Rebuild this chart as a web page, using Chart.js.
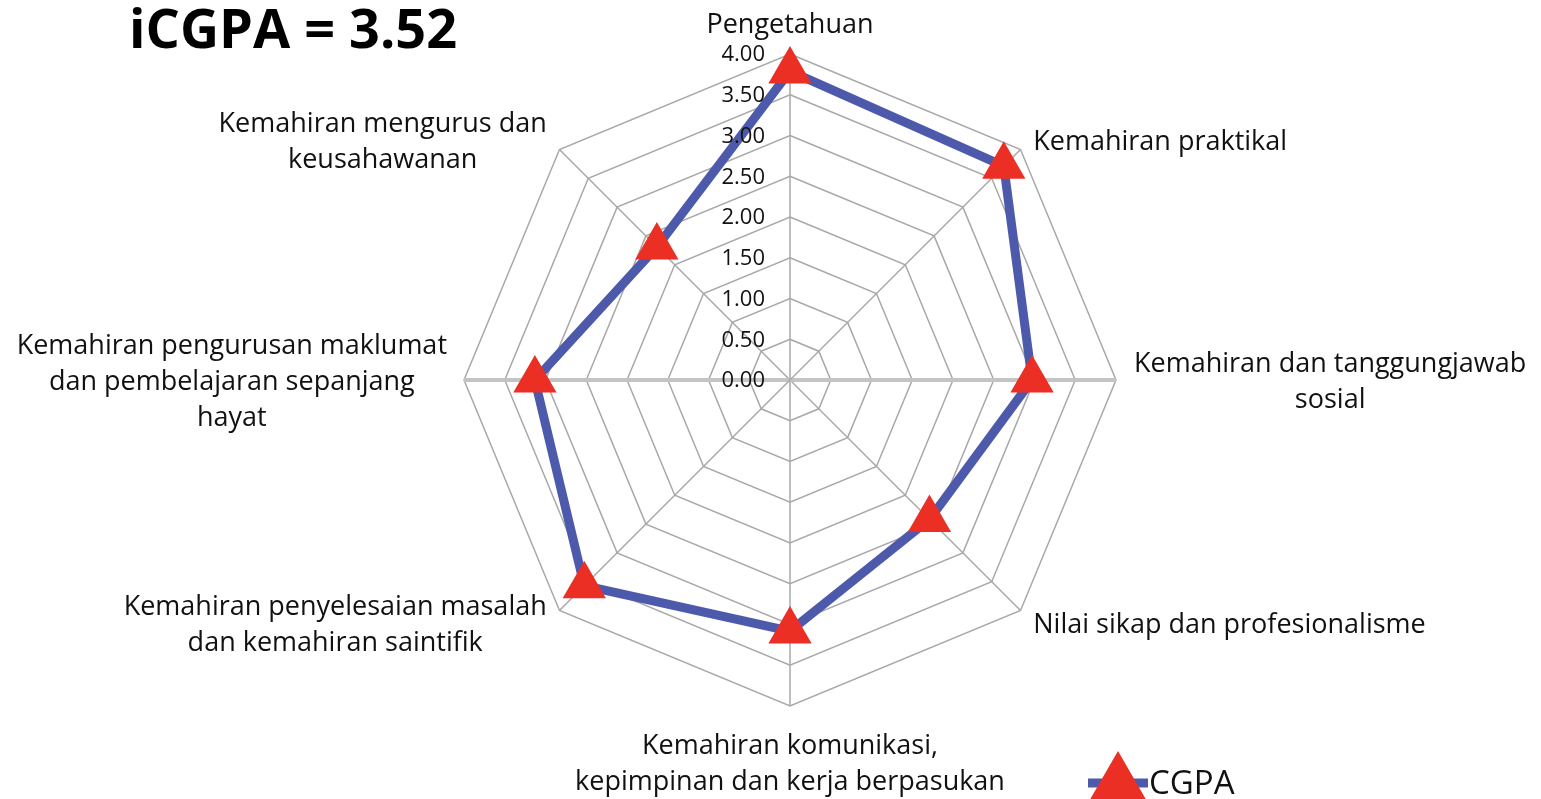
<!DOCTYPE html>
<html>
<head>
<meta charset="utf-8">
<script src="https://cdn.jsdelivr.net/npm/chart.js@4.4.0/dist/chart.umd.min.js"></script>
<style>
  body { margin: 0; background: #fff; }
  #wrap { position: relative; width: 1541px; height: 799px; }
</style>
</head>
<body>
<div id="wrap"><canvas id="radarCgpa"></canvas></div>
<script>
// chart data
var skillLabels = [
  "Pengetahuan",
  "Kemahiran praktikal",
  ["Kemahiran dan tanggungjawab", "sosial"],
  "Nilai sikap dan profesionalisme",
  ["Kemahiran komunikasi,", "kepimpinan dan kerja berpasukan"],
  ["Kemahiran penyelesaian masalah", "dan kemahiran saintifik"],
  ["Kemahiran pengurusan maklumat", "dan pembelajaran sepanjang", "hayat"],
  ["Kemahiran mengurus dan", "keusahawanan"]
];
var cgpaValues = [3.79, 3.71, 2.97, 2.42, 3.08, 3.57, 3.13, 2.31];
var tickLabels = ["0.00", "0.50", "1.00", "1.50", "2.00", "2.50", "3.00", "3.50", "4.00"];
var headline = "iCGPA = 3.52";
var seriesName = "CGPA";

var lineBlue = '#4d5aac';
var markerRed = '#ec2f24';
var labelSize = 27;
var labelLine = 36;
var labelPad = [13, 18, 18, 18, 22, 18, 17, 18];

// draws tick numbers left of the axis, the category labels, title and legend
var decorPlugin = {
  id: 'decor',
  afterDraw: function (chart) {
    var ctx = chart.ctx;
    var scale = chart.scales.r;
    ctx.save();

    // tick labels
    ctx.font = '22px "Open Sans"';
    ctx.fillStyle = '#111';
    ctx.textAlign = 'right';
    ctx.textBaseline = 'middle';
    tickLabels.forEach(function (t) {
      var d = scale.getDistanceFromCenterForValue(parseFloat(t));
      ctx.fillText(t, scale.xCenter - 25, scale.yCenter - d + 1);
    });

    // category labels, placed from the scale's own point positions
    ctx.font = labelSize + 'px "Open Sans"';
    ctx.textAlign = 'center';
    skillLabels.forEach(function (lbl, i) {
      var lines = [].concat(lbl);
      var p = scale.getPointPosition(i, scale.drawingArea + labelPad[i]);
      var w = Math.max.apply(null, lines.map(function (l) { return ctx.measureText(l).width; }));
      var h = lines.length * labelLine;
      var cx = p.x, top = p.y - h / 2 + 2;
      if (i === 0) top = p.y - h + 2;
      if (i === 4) top = p.y;
      if (i === 1 || i === 7) top += 4;
      if (i >= 1 && i <= 3) cx = p.x + w / 2;
      if (i >= 5) cx = p.x - w / 2;
      lines.forEach(function (line, j) {
        ctx.fillText(line, cx, top + labelLine / 2 + j * labelLine);
      });
    });

    // title
    ctx.font = 'bold 54px "Open Sans"';
    ctx.fillStyle = '#000';
    ctx.textAlign = 'left';
    ctx.textBaseline = 'alphabetic';
    ctx.fillText(headline, 129, 48);

    // legend
    var ds = chart.data.datasets[0];
    var lx = 1088, ly = 783;
    ctx.strokeStyle = ds.borderColor;
    ctx.lineWidth = ds.borderWidth;
    ctx.beginPath();
    ctx.moveTo(lx, ly);
    ctx.lineTo(lx + 60, ly);
    ctx.stroke();
    ctx.fillStyle = ds.pointBackgroundColor;
    ctx.strokeStyle = ds.pointBorderColor;
    Chart.helpers.drawPoint(ctx, { pointStyle: 'triangle', radius: ds.pointRadius, borderWidth: ds.pointBorderWidth }, lx + 30, ly);
    ctx.fillStyle = '#111';
    ctx.font = '33px "Open Sans"';
    ctx.textBaseline = 'middle';
    ctx.fillText(ds.label, lx + 61, ly + 2);

    ctx.restore();
  }
};

var radarCgpa = document.getElementById("radarCgpa");
var radarCgpaConfig = {
  type: 'radar',
  data: {
    labels: skillLabels,
    datasets: [{
      label: seriesName,
      data: cgpaValues,
      borderColor: lineBlue,
      backgroundColor: 'rgba(0,0,0,0)',
      borderWidth: 9,
      fill: false,
      pointStyle: 'triangle',
      pointRadius: 23,
      pointHoverRadius: 23,
      pointBackgroundColor: markerRed,
      pointBorderColor: markerRed,
      pointBorderWidth: 2
    }]
  },
  options: {
    responsive: true,
    maintainAspectRatio: false,
    animation: false,
    // labels are drawn by the plugin, so the web fills this box
    layout: { padding: { left: 400, right: 361, top: 54, bottom: 93 } },
    plugins: {
      legend: { display: false },
      tooltip: { enabled: false }
    },
    scales: {
      r: {
        min: 0,
        max: 4,
        ticks: { display: false, stepSize: 0.5 },
        grid: { color: '#a8a8a8', lineWidth: 1.5 },
        angleLines: {
          color: function (c) { return (c.index === 2 || c.index === 6) ? '#c4c4c4' : '#a8a8a8'; },
          lineWidth: function (c) { return (c.index === 2 || c.index === 6) ? 4 : 1.5; }
        },
        pointLabels: { display: false }
      }
    }
  },
  plugins: [decorPlugin]
};
var radarCgpaObj = new Chart(radarCgpa, radarCgpaConfig);
</script>
</body>
</html>
